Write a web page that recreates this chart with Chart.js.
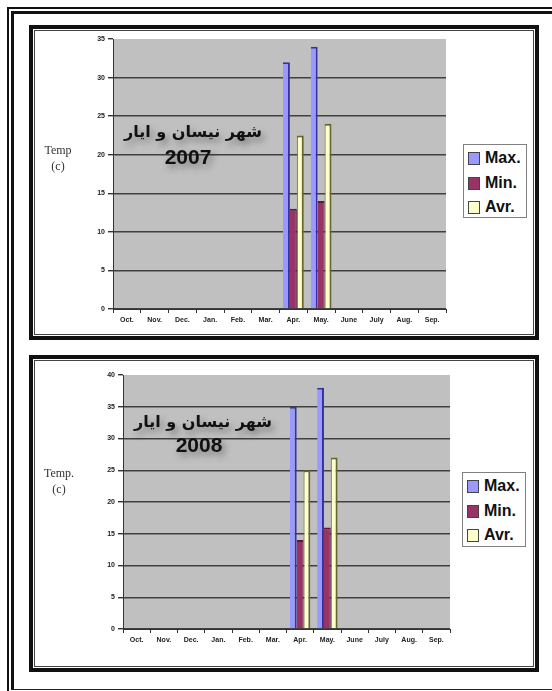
<!DOCTYPE html>
<html>
<head>
<meta charset="utf-8">
<script src="https://cdn.jsdelivr.net/npm/chart.js@4/dist/chart.umd.min.js"></script>
<style>
  html, body { margin: 0; padding: 0; background: #fff; }
  body { width: 552px; height: 691px; position: relative; overflow: hidden;
         font-family: "Liberation Sans", Arial, sans-serif; }
  .rule-thin  { position: absolute; left: 7px; top: 7px; width: 600px; height: 700px;
                border-left: 2px solid #111; border-top: 2px solid #111; }
  .rule-thick { position: absolute; left: 11px; top: 11px; width: 600px; height: 675px;
                border-left: 3px solid #111; border-top: 3px solid #111; border-bottom: 1px solid #222; }
  .panel { position: absolute; left: 29px; width: 502px; border: 4px solid #111; background: #fff;
           box-shadow: inset 0 0 0 1px #fff, inset 0 0 0 2px #444; }
  canvas { position: absolute; }
  .ytitle { position: absolute; width: 40px; text-align: center; font-family: "Liberation Serif", "Times New Roman", serif;
            font-size: 12px; line-height: 16px; color: #333; transform: translate(-50%, 0); }
  .caption { position: absolute; transform: translate(-50%, -50%); white-space: nowrap; color: #111;
             text-shadow: 3px 4px 7px rgba(0,0,0,0.38); }
  .caption.ar { font-family: "DejaVu Sans", sans-serif; font-weight: bold; font-size: 16px; direction: rtl; }
  .caption.yr { font-family: "Liberation Sans", Arial, sans-serif; font-weight: bold; font-size: 21px; }
  .legend { position: absolute; background: #fff; border: 1px solid #808080; box-sizing: border-box; padding-top: 1px; }
  .legend .row { position: relative; height: 24.5px; line-height: 24.5px; padding-left: 21px;
                 font-weight: bold; font-size: 16px; color: #111; }
  .legend .sw { position: absolute; left: 4px; top: 6px; width: 10px; height: 11px; border: 1px solid #444; }
</style>
</head>
<body>
<div class="rule-thin"></div>
<div class="rule-thick"></div>
<div class="panel" style="top:25px;height:307px;"></div>
<div class="panel" style="top:355px;height:309px;"></div>

<canvas id="c2007" width="424" height="305" style="left:36px;top:30px;"></canvas>
<canvas id="c2008" width="424" height="305" style="left:36px;top:362px;"></canvas>

<div class="ytitle" style="left:58px;top:142px;">Temp<br>(c)</div>
<div class="ytitle" style="left:59px;top:465px;">Temp.<br>(c)</div>

<div class="caption ar" style="left:193px;top:131px;">شهر نيسان و ايار</div>
<div class="caption yr" style="left:188px;top:157px;">2007</div>
<div class="caption ar" style="left:203px;top:421px;">شهر نيسان و ايار</div>
<div class="caption yr" style="left:199px;top:445px;">2008</div>

<div class="legend" id="lg2007" style="left:463px;top:144px;width:64px;height:74px;"></div>
<div class="legend" id="lg2008" style="left:462px;top:472px;width:64px;height:75px;"></div>

<script>
// Months of the hydrological year, October to September
const months = ["Oct.", "Nov.", "Dec.", "Jan.", "Feb.", "Mar.", "Apr.", "May.", "June", "July", "Aug.", "Sep."];
const seriesNames = ["Max.", "Min.", "Avr."];

// Temperatures (°C) for April and May; other months have no readings
const max2007 = [null, null, null, null, null, null, 32, 34, null, null, null, null];
const min2007 = [null, null, null, null, null, null, 13, 14, null, null, null, null];
const avr2007 = [null, null, null, null, null, null, 22.5, 24, null, null, null, null];

const max2008 = [null, null, null, null, null, null, 35, 38, null, null, null, null];
const min2008 = [null, null, null, null, null, null, 14, 16, null, null, null, null];
const avr2008 = [null, null, null, null, null, null, 25, 27, null, null, null, null];

// Value-axis ranges
const yMax2007 = 35;
const yMax2008 = 40;
const yStep = 5;

const faceColors = ["#9999ff", "#993366", "#ffffcc"];
const edgeColors = ["#333399", "#5a1a3a", "#666633"];
const edgeWidths = [
  { top: 2, right: 2, left: 0, bottom: 0 },
  { top: 2, right: 1, left: 0, bottom: 0 },
  { top: 2, right: 2, left: 1, bottom: 0 }
];

// Silver fill behind the plot area
const plotBackground = {
  id: "plotBackground",
  beforeDraw(chart, args, opts) {
    const { ctx, chartArea: a } = chart;
    ctx.save();
    ctx.fillStyle = opts.color;
    ctx.fillRect(a.left, a.top, a.right - a.left, a.bottom - a.top);
    ctx.restore();
  }
};

function buildChart(id, values, yMax, layout) {
  const datasets = values.map((data, i) => ({
    label: seriesNames[i],
    data: data,
    backgroundColor: faceColors[i],
    borderColor: edgeColors[i],
    borderWidth: edgeWidths[i],
    borderSkipped: false,
    categoryPercentage: 0.75,
    barPercentage: 1.0
  }));
  return new Chart(document.getElementById(id), {
    type: "bar",
    data: { labels: months, datasets: datasets },
    plugins: [plotBackground],
    options: {
      responsive: false,
      animation: false,
      events: [],
      layout: { padding: layout.padding },
      plugins: {
        legend: { display: false },
        tooltip: { enabled: false },
        plotBackground: { color: "#c0c0c0" }
      },
      scales: {
        x: {
          afterFit: s => { s.height = 22; },
          grid: { drawOnChartArea: false, drawTicks: true, tickLength: 4, tickColor: "#333", offset: true },
          border: { display: true, color: "#333", width: 1 },
          ticks: { color: "#222", font: { family: "Liberation Sans", size: 7, weight: "bold" },
                   padding: 3, maxRotation: 0, autoSkip: false }
        },
        y: {
          min: 0, max: yMax,
          afterFit: s => { s.width = layout.yWidth; },
          grid: {
            color: c => (c.tick && c.tick.value === yMax) ? "rgba(0,0,0,0)" : "#404040",
            lineWidth: 1.4,
            tickLength: 5, tickColor: "#333"
          },
          border: { display: true, color: "#333", width: 1 },
          ticks: { stepSize: yStep, color: "#222", padding: 3,
                   font: { family: "Liberation Sans", size: 7, weight: "bold" } }
        }
      }
    }
  });
}

function buildLegend(id) {
  const box = document.getElementById(id);
  seriesNames.forEach((name, i) => {
    const row = document.createElement("div");
    row.className = "row";
    const sw = document.createElement("span");
    sw.className = "sw";
    sw.style.background = faceColors[i];
    row.appendChild(sw);
    row.appendChild(document.createTextNode(name));
    box.appendChild(row);
  });
}

buildChart("c2007", [max2007, min2007, avr2007], yMax2007,
  { padding: { top: 9, right: 14, left: 0, bottom: 4 }, yWidth: 77 });
buildChart("c2008", [max2008, min2008, avr2008], yMax2008,
  { padding: { top: 13, right: 10, left: 0, bottom: 16 }, yWidth: 87 });
buildLegend("lg2007");
buildLegend("lg2008");
</script>
</body>
</html>
